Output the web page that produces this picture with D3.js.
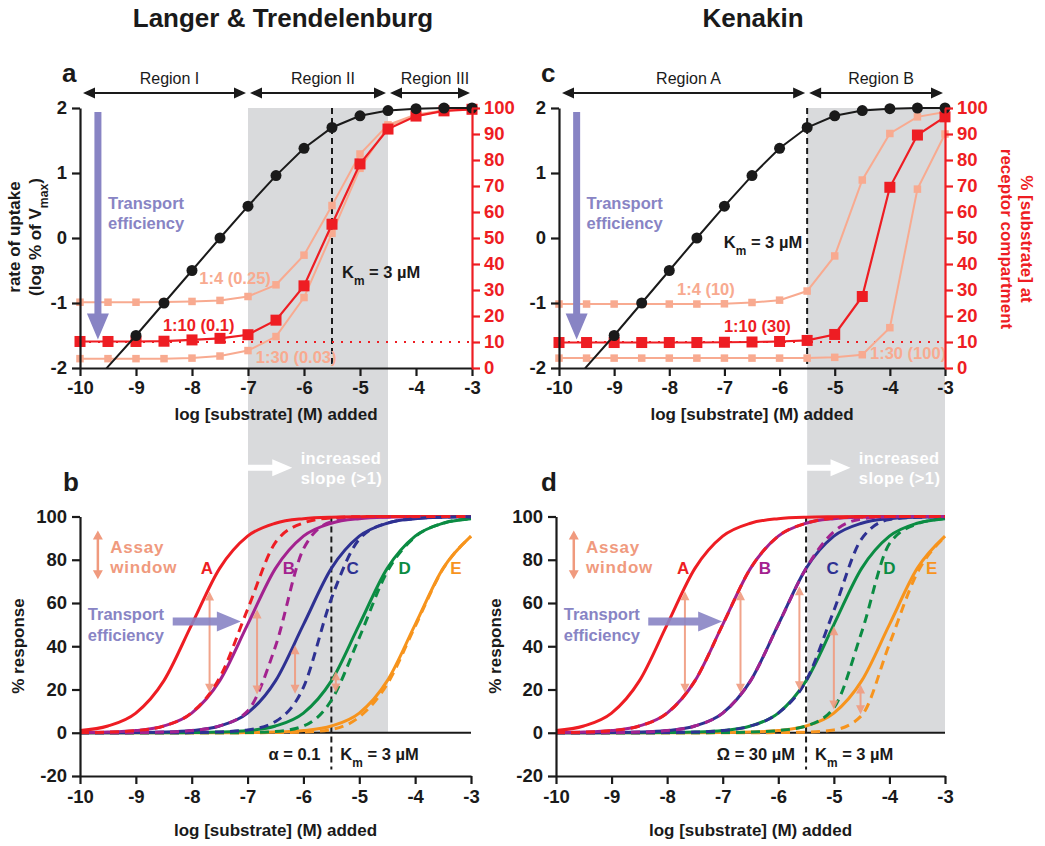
<!DOCTYPE html>
<html>
<head>
<meta charset="utf-8">
<script src="https://cdn.jsdelivr.net/npm/d3@7"></script>
<style>
  body { margin: 0; background: #fff; }
  svg text { font-family: 'Liberation Sans', Arial, Helvetica, sans-serif; }
  .axis path, .axis line { stroke: #1a1a1a; stroke-width: 2.2; }
  .axis text { font-size: 18.5px; font-weight: bold; fill: #1a1a1a; }
  .axis-right path, .axis-right line { stroke: #ee1d23; }
  .axis-right text { fill: #ee1d23; }
</style>
</head>
<body>
<div id="chart"></div>
<script>
// ---- data ----
const logConc = [-10, -9.5, -9, -8.5, -8, -7.5, -7, -6.5, -6, -5.5, -5, -4.5, -4, -3.5, -3];

// black curve, log % of Vmax (panels a and c)
const uptakeLog = [-2.48, -1.98, -1.5, -1.0, -0.5, 0.0, 0.49, 0.96, 1.38, 1.70, 1.88, 1.96, 1.99, 2.0, 2.0];

// % substrate at receptor compartment, Langer & Trendelenburg (panel a)
const ltRatioLabels = ['1:4 (0.25)', '1:10 (0.1)', '1:30 (0.03)'];
const ltRatio4  = [25.3, 25.3, 25.3, 25.4, 25.6, 26, 27.5, 32, 43.4, 62.5, 82.3, 93.5, 97.5, 99, 99.5];
const ltRatio10 = [10.2, 10.2, 10.2, 10.3, 10.8, 11.4, 12.8, 18.4, 31.6, 55.3, 78.5, 91.9, 96.9, 98.9, 99.5];
const ltRatio30 = [3.6, 3.6, 3.6, 3.6, 3.8, 4.6, 6.7, 12.1, 27.1, 51.8, 76.8, 93, 97, 99, 99.5];

// Kenakin (panel c)
const kRatioLabels = ['1:4 (10)', '1:10 (30)', '1:30 (100)'];
const kRatio4  = [24.6, 24.6, 24.6, 24.6, 24.6, 24.6, 24.7, 25.2, 26.1, 29.6, 43.1, 72.3, 90.2, 96.6, 98.5];
const kRatio10 = [9.8, 9.8, 9.8, 9.8, 9.8, 9.8, 9.9, 10, 10.2, 10.6, 12.9, 27.5, 69.5, 89.6, 96.6];
const kRatio30 = [3.8, 3.8, 3.8, 3.8, 3.8, 3.8, 3.8, 3.8, 3.8, 3.8, 4.1, 5.1, 15.5, 68.8, 90];

// % response curves (panels b and d)
const curveNames = ['A', 'B', 'C', 'D', 'E'];
const curveColors = ['#ee1d23', '#a3228f', '#2e3192', '#0b8c43', '#f7941d'];
const solidA = [1.0, 3.1, 9.1, 24, 50, 76, 90.9, 96.9, 99, 99.7, 99.9, 100, 100, 100, 100];
const solidB = [0.1, 0.3, 1.0, 3.1, 9.1, 24, 50, 76, 90.9, 96.9, 99, 99.7, 99.9, 100, 100];
const solidC = [0, 0, 0.1, 0.3, 1.0, 3.1, 9.1, 24, 50, 76, 90.9, 96.9, 99, 99.7, 99.9];
const solidD = [0, 0, 0, 0, 0.1, 0.3, 1.0, 3.1, 9.1, 24, 50, 76, 90.9, 96.9, 99];
const solidE = [0, 0, 0, 0, 0, 0, 0.1, 0.3, 1.0, 3.1, 9.1, 24, 50, 76, 90.9];

const ltDashA = [0.1, 0.3, 1.0, 3.1, 9.3, 25.4, 57, 88, 97, 99.4, 99.9, 100, 100, 100, 100];
const ltDashB = [0, 0, 0.1, 0.3, 1.0, 3.2, 10, 40, 85, 97.5, 99.3, 99.8, 100, 100, 100];
const ltDashC = [0, 0, 0, 0, 0.1, 0.4, 1.3, 5.2, 21, 62, 89.5, 97, 99, 99.7, 99.9];
const ltDashD = [0, 0, 0, 0, 0, 0, 0.1, 0.6, 3.1, 15, 44, 74.5, 90.6, 96.9, 99];
const ltDashE = [0, 0, 0, 0, 0, 0, 0, 0.1, 0.3, 1.5, 7.3, 22.5, 49.2, 75.8, 90.8];

const kDashA = [0.1, 0.3, 1.0, 3.1, 9.1, 24, 50, 76, 90.9, 96.9, 99.2, 99.8, 100, 100, 100];
const kDashB = [0, 0, 0.1, 0.3, 1.0, 3.1, 9.1, 24, 50, 76, 93, 98.9, 99.9, 100, 100];
const kDashC = [0, 0, 0, 0, 0.1, 0.3, 1.0, 3.1, 9.1, 24, 56.5, 89.7, 98.6, 99.6, 99.9];
const kDashD = [0, 0, 0, 0, 0, 0, 0.1, 0.3, 1.0, 3.1, 11.5, 46.5, 87.4, 96.6, 99];
const kDashE = [0, 0, 0, 0, 0, 0, 0, 0, 0.1, 0.3, 1.3, 8, 41, 73.9, 90.6];

// assay-window arrows (log conc, top %, bottom %)
const ltWindowX = [-7.68, -6.83, -6.15, -5.42];
const ltWindowTop = [65.3, 57, 40.5, 28.4];
const ltWindowBottom = [18.5, 17.7, 18, 18.6];
const kWindowX = [-7.68, -6.68, -5.62, -5.0, -4.52];
const kWindowTop = [65.4, 65.4, 67.7, 49.2, 22.3];
const kWindowBottom = [18.5, 18.5, 19.7, 10.8, 8.5];

const xTicks = [-10, -9, -8, -7, -6, -5, -4, -3];
const uptakeTicks = [-2, -1, 0, 1, 2];
const pctTicks = [0, 10, 20, 30, 40, 50, 60, 70, 80, 90, 100];
const responseTicks = [-20, 0, 20, 40, 60, 80, 100];

const ltRegions = ['Region I', 'Region II', 'Region III'];
const ltRegionBounds = [-10, -7, -4.5, -3];
const kRegions = ['Region A', 'Region B'];
const kRegionBounds = [-10, -5.5, -3];
const ltShade = [-7, -4.5];
const kShade = [-5.5, -3];
const kmLog = -5.5;

// ---- colours ----
const RED = '#ee1d23';
const SALMON = '#f8aa90';
const ARROW_SALMON = '#f09a7e';
const PURPLE = '#8884c4';
const GREY = '#d9dadc';
const INK = '#1a1a1a';

const svg = d3.select('#chart').append('svg')
  .attr('width', 1045)
  .attr('height', 846);

const xA = d3.scaleLinear().domain([-10, -3]).range([80, 472]);
const xC = d3.scaleLinear().domain([-10, -3]).range([559, 945]);
const xB = d3.scaleLinear().domain([-10, -3]).range([80, 471]);
const xD = d3.scaleLinear().domain([-10, -3]).range([556, 945]);
const yTop = d3.scaleLinear().domain([-2, 2]).range([368, 108]);
const yTopR = d3.scaleLinear().domain([0, 100]).range([368, 108]);
const yBot = d3.scaleLinear().domain([-20, 100]).range([776, 516.5]);

// polygon for an arrow from (x1,y1) to (x2,y2)
function arrowPoly(x1, y1, x2, y2, o) {
  const len = Math.hypot(x2 - x1, y2 - y1);
  const ux = (x2 - x1) / len, uy = (y2 - y1) / len, nx = -uy, ny = ux;
  const s = o.shaft / 2, h = o.headW / 2, L = o.headLen;
  const P = (x, y, k, m) => [x + ux * k + nx * m, y + uy * k + ny * m];
  const pts = [];
  if (o.both) pts.push([x1, y1], P(x1, y1, L, h), P(x1, y1, L, s));
  else pts.push(P(x1, y1, 0, s));
  pts.push(P(x2, y2, -L, s), P(x2, y2, -L, h), [x2, y2], P(x2, y2, -L, -h), P(x2, y2, -L, -s));
  if (o.both) pts.push(P(x1, y1, L, -s), P(x1, y1, L, -h));
  else pts.push(P(x1, y1, 0, -s));
  return pts.map(p => p.join(',')).join(' ');
}

function arrow(g, x1, y1, x2, y2, o) {
  return g.append('polygon')
    .attr('points', arrowPoly(x1, y1, x2, y2, o))
    .attr('fill', o.color)
    .attr('opacity', o.opacity || 1);
}

function label(g, x, y, s, o) {
  return g.append('text')
    .attr('x', x).attr('y', y).attr('dy', '0.35em')
    .attr('font-size', o.size || 16.5)
    .attr('font-weight', o.weight || 'bold')
    .attr('fill', o.color || INK)
    .attr('text-anchor', o.anchor || 'start')
    .attr('letter-spacing', o.spacing || 0)
    .text(s);
}

// text with a subscript, e.g. K_m
function subLabel(g, x, y, parts, o) {
  const t = g.append('text')
    .attr('x', x).attr('y', y).attr('dy', '0.35em')
    .attr('font-size', o.size || 16.5)
    .attr('font-weight', 'bold')
    .attr('fill', o.color || INK)
    .attr('text-anchor', o.anchor || 'start');
  parts.forEach(pt => {
    const ts = t.append('tspan').text(pt[0]);
    if (pt[1]) ts.attr('font-size', '72%').attr('baseline-shift', 'sub');
  });
  return t;
}

function styleAxis(sel) {
  sel.selectAll('text').attr('font-family', "'Liberation Sans', Arial, sans-serif");
}

// ---- grey shaded regions (run through top and bottom panels) ----
const bg = svg.append('g');
[[xA, ltShade], [xC, kShade]].forEach(([x, s]) => {
  bg.append('rect')
    .attr('x', x(s[0]))
    .attr('y', yTop(2))
    .attr('width', x(s[1]) - x(s[0]))
    .attr('height', yBot(0) - yTop(2))
    .attr('fill', GREY);
});

// ---- titles ----
svg.append('text').attr('x', 283).attr('y', 27).attr('text-anchor', 'middle')
  .attr('font-size', 26).attr('font-weight', 'bold').attr('fill', INK)
  .text('Langer & Trendelenburg');
svg.append('text').attr('x', 753).attr('y', 27).attr('text-anchor', 'middle')
  .attr('font-size', 26).attr('font-weight', 'bold').attr('fill', INK)
  .text('Kenakin');

function drawTop(p) {
  const g = svg.append('g');
  const x = p.x;

  const clipId = 'clip-' + p.letter;
  svg.append('clipPath').attr('id', clipId).append('rect')
    .attr('x', x(-10)).attr('y', yTop(2) - 10)
    .attr('width', x(-3) - x(-10) + 10).attr('height', yTop(-2) - yTop(2) + 10);

  // panel letter
  g.append('text').attr('x', p.letterX).attr('y', 82)
    .attr('font-size', 26).attr('font-weight', 'bold').attr('fill', INK).text(p.letter);

  // region arrows
  p.regions.forEach((name, i) => {
    const x1 = x(p.bounds[i]) + (i === 0 ? 3 : 2);
    const x2 = x(p.bounds[i + 1]) - 2;
    arrow(g, x1, 93, x2, 93, {shaft: 2, headLen: 12, headW: 11, both: true, color: INK});
    g.append('text').attr('x', (x1 + x2) / 2 + 5).attr('y', 84)
      .attr('text-anchor', 'middle').attr('font-size', 16).attr('fill', INK).text(name);
  });

  // Km dashed line and 10% dotted line
  g.append('line')
    .attr('x1', x(kmLog)).attr('x2', x(kmLog))
    .attr('y1', yTop(2)).attr('y2', yTop(-2))
    .attr('stroke', INK).attr('stroke-width', 2).attr('stroke-dasharray', '6,4');
  g.append('line')
    .attr('x1', x(-10)).attr('x2', x(-3))
    .attr('y1', yTopR(10)).attr('y2', yTopR(10))
    .attr('stroke', RED).attr('stroke-width', 2).attr('stroke-dasharray', '2,7');

  // ratio series (light ones first, 1:10 on top)
  const pctLine = d3.line().x((d, i) => x(logConc[i])).y(d => yTopR(d));
  [0, 2, 1].forEach(k => {
    const vals = p.ratios[k];
    const big = k === 1;
    const col = big ? RED : SALMON;
    const sz = big ? 11 : 7.5;
    g.append('path').attr('d', pctLine(vals))
      .attr('fill', 'none').attr('stroke', col).attr('stroke-width', big ? 2.2 : 2);
    g.selectAll(null).data(vals).enter().append('rect')
      .attr('x', (d, i) => x(logConc[i]) - sz / 2)
      .attr('y', d => yTopR(d) - sz / 2)
      .attr('width', sz).attr('height', sz)
      .attr('fill', col);
  });

  // uptake curve
  const upLine = d3.line().x((d, i) => x(logConc[i])).y(d => yTop(d));
  g.append('path').attr('d', upLine(uptakeLog))
    .attr('clip-path', `url(#${clipId})`)
    .attr('fill', 'none').attr('stroke', INK).attr('stroke-width', 2);
  g.selectAll(null).data(uptakeLog.map((v, i) => [logConc[i], v]).filter(d => d[1] > -1.9))
    .enter().append('circle')
    .attr('cx', d => x(d[0])).attr('cy', d => yTop(d[1])).attr('r', 5.5)
    .attr('fill', INK);

  // ratio labels
  p.ratioLabels.forEach((s, k) => {
    label(g, x(p.ratioLabelPos[k][0]), yTopR(p.ratioLabelPos[k][1]), s,
      {color: k === 1 ? RED : SALMON});
  });

  // Km label
  subLabel(g, x(kmLog) + p.kmDx, yTop(p.kmY), [['K'], ['m', true], [' = 3 µM']],
    {anchor: p.kmAnchor});

  // transport efficiency arrow
  arrow(g, x(-9.68), yTop(1.94), x(-9.68), yTop(-1.56),
    {shaft: 7, headLen: 26, headW: 22, color: PURPLE});
  label(g, x(-9.5), yTop(0.54), 'Transport', {color: PURPLE});
  label(g, x(-9.5), yTop(0.22), 'efficiency', {color: PURPLE});

  // axes
  g.append('g').attr('class', 'axis')
    .attr('transform', `translate(0,${yTop(-2)})`)
    .call(d3.axisBottom(x).tickValues(xTicks).tickSize(8).tickSizeOuter(0).tickPadding(5)
      .tickFormat(d => String(d)))
    .call(styleAxis);
  g.append('g').attr('class', 'axis')
    .attr('transform', `translate(${x(-10)},0)`)
    .call(d3.axisLeft(yTop).tickValues(uptakeTicks).tickSize(8).tickSizeOuter(0).tickPadding(5)
      .tickFormat(d => String(d)))
    .call(styleAxis);
  g.append('g').attr('class', 'axis axis-right')
    .attr('transform', `translate(${x(-3)},0)`)
    .call(d3.axisRight(yTopR).tickValues(pctTicks).tickSize(8).tickSizeOuter(0).tickPadding(4))
    .call(styleAxis);

  g.append('text').attr('x', (x(-10) + x(-3)) / 2).attr('y', 420)
    .attr('text-anchor', 'middle').attr('font-size', 17).attr('font-weight', 'bold')
    .attr('fill', INK).text('log [substrate] (M) added');

  if (p.leftTitle) {
    const t = g.append('g').attr('transform', 'translate(14,237) rotate(-90)');
    t.append('text').attr('text-anchor', 'middle').attr('dy', '0.35em')
      .attr('font-size', 17).attr('font-weight', 'bold').attr('fill', INK).text('rate of uptake');
    const t2 = g.append('g').attr('transform', 'translate(35,237) rotate(-90)');
    subLabel(t2, 0, 0, [['(log % of V'], ['max', true], [')']], {anchor: 'middle', size: 17});
  }
  if (p.rightTitle) {
    const t = g.append('g').attr('transform', 'translate(1027,239) rotate(90)');
    label(t, 0, 0, '% [substrate] at', {anchor: 'middle', color: RED, size: 17});
    const t2 = g.append('g').attr('transform', 'translate(1007,239) rotate(90)');
    label(t2, 0, 0, 'receptor compartment', {anchor: 'middle', color: RED, size: 17});
  }
}

function drawBottom(p) {
  const g = svg.append('g');
  const x = p.x;

  g.append('text').attr('x', p.letterX).attr('y', 491)
    .attr('font-size', 26).attr('font-weight', 'bold').attr('fill', INK).text(p.letter);

  // "increased slope" arrow inside the grey band
  arrow(g, x(p.slopeFrom), yBot(122.5), x(p.slopeFrom + 0.8), yBot(122.5),
    {shaft: 6, headLen: 20, headW: 17, color: '#fff'});
  label(g, x(p.slopeFrom + 0.95), yBot(127), 'increased', {color: '#fff', spacing: 0.4});
  label(g, x(p.slopeFrom + 0.95), yBot(117.8), 'slope (>1)', {color: '#fff', spacing: 0.4});

  // zero line and Km line
  g.append('line')
    .attr('x1', x(-10)).attr('x2', x(-3))
    .attr('y1', yBot(0)).attr('y2', yBot(0))
    .attr('stroke', INK).attr('stroke-width', 2.2);
  g.append('line')
    .attr('x1', x(kmLog)).attr('x2', x(kmLog))
    .attr('y1', yBot(100)).attr('y2', yBot(-17))
    .attr('stroke', INK).attr('stroke-width', 2).attr('stroke-dasharray', '6,4');

  const line = d3.line().x((d, i) => x(logConc[i])).y(d => yBot(d)).curve(d3.curveMonotoneX);
  for (let k = 4; k >= 0; k--) {
    g.append('path').attr('d', line(p.solid[k]))
      .attr('fill', 'none').attr('stroke', curveColors[k]).attr('stroke-width', 3);
  }
  for (let k = 4; k >= 0; k--) {
    g.append('path').attr('d', line(p.dashed[k]))
      .attr('fill', 'none').attr('stroke', curveColors[k]).attr('stroke-width', 3)
      .attr('stroke-dasharray', '9,6');
  }

  // curve letters
  curveNames.forEach((n, k) => {
    label(g, x(p.nameX[k]), yBot(76), n, {color: curveColors[k], anchor: 'middle', size: 17});
  });

  // assay-window arrows
  p.winX.forEach((lx, i) => {
    arrow(g, x(lx), yBot(p.winTop[i]), x(lx), yBot(p.winBottom[i]),
      {shaft: 2, headLen: 9, headW: 9, both: true, color: ARROW_SALMON, opacity: 0.9});
  });
  arrow(g, x(-9.68), yBot(93.5), x(-9.68), yBot(71),
    {shaft: 2.5, headLen: 9, headW: 10, both: true, color: ARROW_SALMON});
  label(g, x(-9.46), yBot(86), 'Assay', {color: ARROW_SALMON, size: 17, spacing: 0.8});
  label(g, x(-9.46), yBot(76.7), 'window', {color: ARROW_SALMON, size: 17, spacing: 0.8});

  // transport efficiency arrow
  arrow(g, x(-8.34), yBot(51.5), x(p.teTo), yBot(51.5),
    {shaft: 8, headLen: 24, headW: 20, color: PURPLE, opacity: 0.9});
  label(g, x(-9.86), yBot(54.6), 'Transport', {color: PURPLE});
  label(g, x(-9.86), yBot(45), 'efficiency', {color: PURPLE});

  // constants under the curves
  label(g, x(kmLog) - 11, yBot(-10), p.constLabel, {anchor: 'end'});
  subLabel(g, x(kmLog) + 9, yBot(-10), [['K'], ['m', true], [' = 3 µM']], {});

  // axes
  g.append('g').attr('class', 'axis')
    .attr('transform', `translate(0,${yBot(-20)})`)
    .call(d3.axisBottom(x).tickValues(xTicks).tickSize(8).tickSizeOuter(0).tickPadding(6)
      .tickFormat(d => String(d)))
    .call(styleAxis);
  g.append('g').attr('class', 'axis')
    .attr('transform', `translate(${x(-10)},0)`)
    .call(d3.axisLeft(yBot).tickValues(responseTicks).tickSize(8).tickSizeOuter(0).tickPadding(5)
      .tickFormat(d => String(d)))
    .call(styleAxis);

  g.append('text').attr('x', (x(-10) + x(-3)) / 2).attr('y', 836)
    .attr('text-anchor', 'middle').attr('font-size', 17).attr('font-weight', 'bold')
    .attr('fill', INK).text('log [substrate] (M) added');
  const t = g.append('g').attr('transform', `translate(${p.titleX},646) rotate(-90)`);
  label(t, 0, 0, '% response', {anchor: 'middle', size: 17});
}

drawTop({
  x: xA, letter: 'a', letterX: 62,
  regions: ltRegions, bounds: ltRegionBounds,
  ratios: [ltRatio4, ltRatio10, ltRatio30],
  ratioLabels: ltRatioLabels,
  ratioLabelPos: [[-7.87, 34.6], [-8.52, 16.6], [-6.86, 4.2]],
  kmDx: 10, kmY: -0.53, kmAnchor: 'start',
  leftTitle: true
});
drawTop({
  x: xC, letter: 'c', letterX: 541,
  regions: kRegions, bounds: kRegionBounds,
  ratios: [kRatio4, kRatio10, kRatio30],
  ratioLabels: kRatioLabels,
  ratioLabelPos: [[-7.86, 30.4], [-7.01, 15.9], [-4.36, 5.5]],
  kmDx: -5, kmY: -0.07, kmAnchor: 'end',
  rightTitle: true
});
drawBottom({
  x: xB, letter: 'b', letterX: 63,
  solid: [solidA, solidB, solidC, solidD, solidE],
  dashed: [ltDashA, ltDashB, ltDashC, ltDashD, ltDashE],
  nameX: [-7.73, -6.26, -5.12, -4.19, -3.27],
  winX: ltWindowX, winTop: ltWindowTop, winBottom: ltWindowBottom,
  slopeFrom: -7, teTo: -7.12,
  constLabel: 'α = 0.1', titleX: 18
});
drawBottom({
  x: xD, letter: 'd', letterX: 541,
  solid: [solidA, solidB, solidC, solidD, solidE],
  dashed: [kDashA, kDashB, kDashC, kDashD, kDashE],
  nameX: [-7.71, -6.24, -5.02, -4.0, -3.24],
  winX: kWindowX, winTop: kWindowTop, winBottom: kWindowBottom,
  slopeFrom: -5.5, teTo: -7.01,
  constLabel: 'Ω = 30 µM', titleX: 495
});
</script>
</body>
</html>
